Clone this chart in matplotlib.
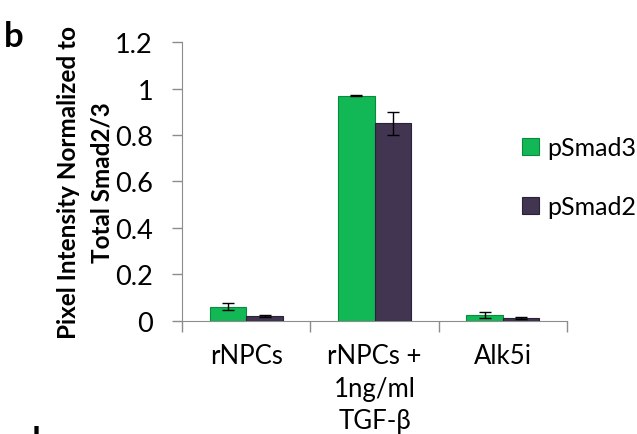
import matplotlib
matplotlib.use("Agg")
import matplotlib.pyplot as plt
import numpy as np

categories = ["rNPCs", "rNPCs +\n1ng/ml\nTGF-β", "Alk5i"]
series_names = ["pSmad3", "pSmad2"]
psmad3 = [0.06, 0.97, 0.025]
psmad3_err = [0.015, 0.003, 0.013]
psmad2 = [0.02, 0.85, 0.012]
psmad2_err = [0.004, 0.05, 0.003]
yticks = [0, 0.2, 0.4, 0.6, 0.8, 1.0, 1.2]
ytick_labels = ["0", "0.2", "0.4", "0.6", "0.8", "1", "1.2"]

green = "#12b855"
green_edge = "#0a8a3c"
purple = "#413551"
purple_edge = "#2a2236"
axis_grey = "#8c8c8c"

plt.rcParams['font.family'] = ['Lato', 'DejaVu Sans']

fig = plt.figure(figsize=(6.37, 4.35), dpi=100)
ax = fig.add_axes([0.286, 0.260, 0.604, 0.641])

x = np.arange(len(categories))
w = 0.285
ax.bar(x - w/2, psmad3, w, color=green, edgecolor=green_edge, linewidth=0.8,
       yerr=psmad3_err, capsize=4, error_kw=dict(elinewidth=1, ecolor="black", capthick=1),
       label=series_names[0], zorder=3)
ax.bar(x + w/2, psmad2, w, color=purple, edgecolor=purple_edge, linewidth=0.8,
       yerr=psmad2_err, capsize=4, error_kw=dict(elinewidth=1, ecolor="black", capthick=1),
       label=series_names[1], zorder=3)

ax.set_xlim(-0.5, 2.5)
ax.set_ylim(0, 1.2)
ax.set_yticks(yticks)
ax.set_yticklabels(ytick_labels, fontsize=19.5)
ax.set_xticks(x)
ax.set_xticklabels(categories, fontsize=18.5, linespacing=1.38, va="top")
ax.set_xticks([-0.5, 0.5, 1.5, 2.5], minor=True)
ax.tick_params(axis="x", which="major", length=0, pad=16)
ax.tick_params(axis="x", which="minor", length=8, color=axis_grey, width=1)
ax.tick_params(axis="y", length=7, color=axis_grey, width=1, pad=14)

for s in ["top", "right"]:
    ax.spines[s].set_visible(False)
ax.spines["left"].set_color(axis_grey)
ax.spines["bottom"].set_color(axis_grey)

ax.set_ylabel("Pixel Intensity Normalized to\nTotal Smad2/3", fontsize=17.5,
              fontweight="bold", labelpad=1, linespacing=1.55)

ax.legend(loc="center left", bbox_to_anchor=(0.82, 0.59), bbox_transform=fig.transFigure,
          frameon=False, fontsize=18, handlelength=0.65, handleheight=0.65,
          handletextpad=0.35, labelspacing=1.45, borderpad=0, borderaxespad=0)

fig.text(0.006, 0.952, "b", fontsize=25, fontweight="bold", ha="left", va="top")
fig.text(0.064, 1 - 426/435, "d", fontsize=25, fontweight="bold", ha="right", va="top")

fig.savefig("out.png", dpi=100)
